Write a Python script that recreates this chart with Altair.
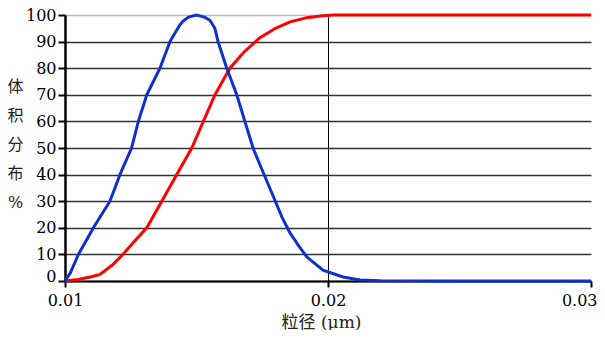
import altair as alt
import pandas as pd

# Frequency distribution (blue), normalised to 100 at the peak
blue_x = [0.0100, 0.0102, 0.01051, 0.01108, 0.01171, 0.01209, 0.01253, 0.01279, 0.01311,
          0.01361, 0.01399, 0.0142, 0.01435, 0.01449, 0.0147, 0.0150, 0.0153, 0.01551,
          0.0157, 0.01582, 0.01615, 0.01653, 0.01684, 0.01715, 0.0174, 0.01787, 0.01825,
          0.01856, 0.0189, 0.0192, 0.01981, 0.02057, 0.02122, 0.0220, 0.0250, 0.0300]
blue_y = [0, 3, 10, 20, 30, 40, 50, 60, 70,
          80, 90, 93.5, 96, 97.7, 99.2, 100, 99.2, 98,
          95, 90, 80, 70, 60, 50, 44, 33, 24,
          18, 13, 9, 4.1, 1.5, 0.4, 0.1, 0, 0]

# Cumulative distribution (red)
red_x = [0.0100, 0.0105, 0.0110, 0.01133, 0.0118, 0.0122, 0.01265, 0.01311, 0.01368,
         0.01425, 0.01482, 0.01526, 0.0157, 0.01627, 0.0168, 0.0174, 0.0180, 0.01856,
         0.0192, 0.0197, 0.0202, 0.0250, 0.0300]
red_y = [0, 0.6, 1.6, 2.5, 6, 10, 15, 20, 30,
         40, 50, 60, 70, 80, 86, 91.4, 95, 97.4,
         99, 99.6, 100, 100, 100]

x_ticks = [0.01, 0.02, 0.03]
y_ticks = [0, 10, 20, 30, 40, 50, 60, 70, 80, 90, 100]
y_title = ["体", "积", "分", "布", "%"]
x_title = "粒径 (μm)"

blue_df = pd.DataFrame({"x": blue_x, "y": blue_y})
red_df = pd.DataFrame({"x": red_x, "y": red_y})

serif = "DejaVu Serif"
mixed = "DejaVu Serif, Noto Sans CJK SC"

x_enc = alt.X(
    "x:Q",
    scale=alt.Scale(domain=[0.01, 0.03], nice=False, zero=False),
    axis=alt.Axis(
        values=x_ticks, format=".2f", title=x_title,
        grid=True,
        gridColor={"condition": {"test": "datum.value == 0.02", "value": "#000000"}, "value": "transparent"},
        gridWidth=1,
        labelFont=serif, labelFontSize=16, labelColor="#000000", labelPadding=5,
        labelAlign={"condition": {"test": "datum.value == 0.03", "value": "right"}, "value": "center"},
        labelOffset={"condition": {"test": "datum.value == 0.03", "value": 6}, "value": 0},
        titleFont=mixed, titleFontSize=17, titleFontWeight="normal", titleColor="#222222",
        titlePadding=6, titleX=256,
        domainColor="#000000", domainWidth=2,
        tickColor="#000000", tickWidth=2, tickSize=6,
    ),
)
y_enc = alt.Y(
    "y:Q",
    scale=alt.Scale(domain=[0, 100], nice=False),
    axis=alt.Axis(
        values=y_ticks, format="d", title=y_title,
        grid=True,
        gridColor={"condition": {"test": "datum.value == 100", "value": "#bbbbbb"}, "value": "#333333"},
        gridWidth=1.5,
        labelFont=serif, labelFontSize=16, labelColor="#000000", labelPadding=2,
        labelOffset={"condition": {"test": "datum.value == 0", "value": -5}, "value": 0},
        titleFont=mixed, titleFontSize=16, titleFontWeight="normal", titleColor="#222222",
        titleAngle=0, titleAlign="center", titleBaseline="top",
        titleX=-50, titleY=63, titleLineHeight=29,
        domainColor="#000000", domainWidth=2.5,
        tickColor="#000000", tickWidth=2, tickSize=7,
    ),
)

red = alt.Chart(red_df).mark_line(color="#ff0000", strokeWidth=3).encode(x=x_enc, y=y_enc)
blue = alt.Chart(blue_df).mark_line(color="#1030cc", strokeWidth=3).encode(x=x_enc, y=y_enc)

chart = alt.layer(red, blue).properties(
    width=526, height=266,
    autosize=alt.AutoSizeParams(type="none"),
    padding={"left": 57, "top": 7, "right": 6, "bottom": 49},
).configure_view(stroke=None)

chart.save("out.html", embed_options={"renderer": "svg", "actions": False})
